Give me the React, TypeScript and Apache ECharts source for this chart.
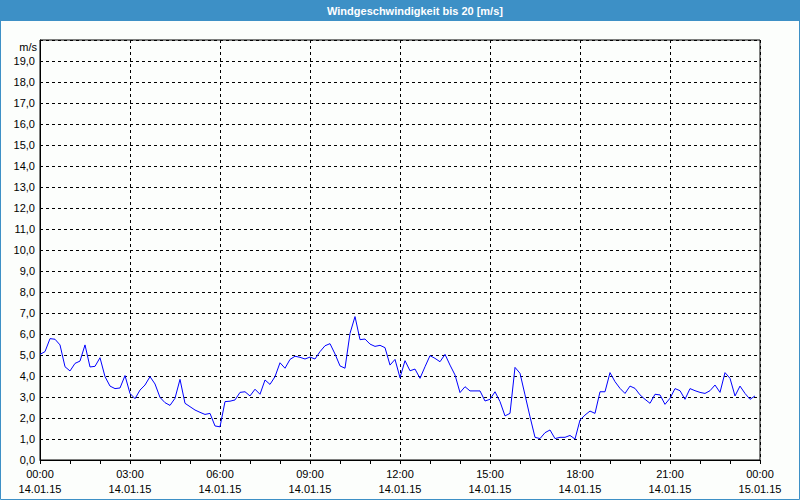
import React, { useEffect, useRef } from 'react';
import * as echarts from 'echarts';

const chartTitle = 'Windgeschwindigkeit bis 20 [m/s]';
const unitLabel = 'm/s';
const timeTickLabels = ['00:00', '03:00', '06:00', '09:00', '12:00', '15:00', '18:00', '21:00', '00:00'];
const dateTickLabels = ['14.01.15', '14.01.15', '14.01.15', '14.01.15', '14.01.15', '14.01.15', '14.01.15', '14.01.15', '15.01.15'];
const tickStepMinutes = 180;
const sampleStepMinutes = 10;

// wind speed in m/s, every 10 minutes from 14.01.15 00:00 to 23:50
const speed0006 = [5.03, 5.16, 5.78, 5.75, 5.48, 4.44, 4.24, 4.6, 4.71, 5.48, 4.43, 4.46, 4.87, 3.97, 3.52, 3.4, 3.43, 4.02, 3.17, 2.92, 3.33, 3.57, 3.97, 3.62, 2.98, 2.73, 2.6, 2.94, 3.84, 2.7, 2.54, 2.38, 2.27, 2.17, 2.22, 1.62, 1.58];
const speed0612 = [2.78, 2.8, 2.86, 3.22, 3.25, 3.05, 3.37, 3.13, 3.81, 3.6, 3.97, 4.63, 4.37, 4.79, 4.94, 4.89, 4.81, 4.9, 4.81, 5.16, 5.44, 5.54, 5.05, 4.48, 4.37, 6.03, 6.83, 5.73, 5.76, 5.52, 5.41, 5.46, 5.35, 4.52, 4.79, 3.92];
const speed1218 = [4.73, 4.25, 4.33, 3.89, 4.44, 4.97, 4.84, 4.68, 5.03, 4.52, 4.05, 3.21, 3.49, 3.29, 3.29, 3.29, 2.81, 2.89, 3.25, 2.78, 2.1, 2.22, 4.41, 4.13, 3.1, 2.06, 1.08, 1.02, 1.3, 1.43, 1.02, 1.08, 1.08, 1.17, 1.0, 1.9];
const speed1824 = [2.14, 2.33, 2.22, 3.25, 3.25, 4.16, 3.73, 3.41, 3.17, 3.52, 3.41, 3.1, 2.89, 2.7, 3.13, 3.1, 2.65, 2.94, 3.4, 3.3, 2.89, 3.4, 3.3, 3.22, 3.17, 3.3, 3.57, 3.22, 4.16, 3.89, 3.05, 3.52, 3.17, 2.89, 3.05];

const FONT = 'Liberation Sans';

export default function App() {
  const ref = useRef<HTMLDivElement>(null);
  useEffect(() => {
    document.body.style.margin = '0';
    const chart = echarts.init(ref.current!, null, { renderer: 'svg' });
    const speeds = [...speed0006, ...speed0612, ...speed1218, ...speed1824];
    const data = speeds.map((v, i) => [i * sampleStepMinutes, v]);
    chart.setOption({
      animation: false,
      backgroundColor: '#fcfefc',
      grid: {
        left: 40,
        right: 40,
        top: 40,
        bottom: 40,
        show: true,
        borderColor: '#000',
        borderWidth: 1,
        backgroundColor: 'transparent',
      },
      xAxis: {
        type: 'value',
        min: 0,
        max: 1440,
        interval: tickStepMinutes,
        axisLine: { show: true, lineStyle: { color: '#000', width: 1 } },
        axisTick: { show: true, length: 4, lineStyle: { color: '#000' } },
        minorTick: { show: true, splitNumber: 3, length: 4, lineStyle: { color: '#000' } },
        splitLine: { show: true, lineStyle: { color: '#000', type: [3, 3], width: 1 } },
        axisLabel: {
          showMinLabel: true,
          showMaxLabel: true,
          color: '#000',
          fontFamily: FONT,
          fontSize: 11,
          lineHeight: 15,
          margin: 6,
          formatter: (v: number) => {
            const idx = Math.round(v / tickStepMinutes);
            return timeTickLabels[idx] + '\n' + dateTickLabels[idx];
          },
        },
      },
      yAxis: {
        type: 'value',
        min: 0,
        max: 20,
        interval: 1,
        axisLine: { show: true, lineStyle: { color: '#000', width: 1 } },
        axisTick: { show: false },
        splitLine: { show: true, lineStyle: { color: '#000', type: [3, 3], width: 1 } },
        axisLabel: {
          color: '#000',
          fontFamily: FONT,
          fontSize: 11,
          margin: 5,
          formatter: (v: number) => (v >= 20 ? '' : v.toFixed(1).replace('.', ',')),
        },
      },
      series: [
        {
          type: 'line',
          data,
          showSymbol: false,
          symbol: 'none',
          lineStyle: { color: '#0000ff', width: 1 },
          z: 5,
        },
      ],
      graphic: [
        {
          type: 'rect',
          shape: { x: 0, y: 0, width: 800, height: 21 },
          style: { fill: '#3d90c6' },
          z: 10,
        },
        {
          type: 'text',
          x: 415,
          y: 11,
          style: {
            text: chartTitle,
            fill: '#fff',
            font: `bold 11px "${FONT}"`,
            textAlign: 'center',
            textVerticalAlign: 'middle',
          },
          z: 11,
        },
        {
          type: 'rect',
          shape: { x: 0.5, y: 0.5, width: 799, height: 499 },
          style: { fill: 'none', stroke: '#3d90c6', lineWidth: 1 },
          z: 10,
        },
        {
          type: 'text',
          x: 37,
          y: 47,
          style: {
            text: unitLabel,
            fill: '#000',
            font: `11px "${FONT}"`,
            textAlign: 'right',
            textVerticalAlign: 'middle',
          },
          z: 11,
        },
      ],
    });
    return () => chart.dispose();
  }, []);
  return <div ref={ref} style={{ width: 800, height: 500 }} />;
}
